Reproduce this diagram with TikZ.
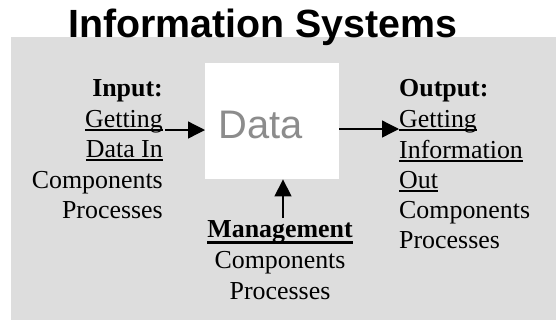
\documentclass[tikz,border=0pt]{standalone}
\usepackage{fontspec}
\setmainfont{Liberation Serif}
\newfontfamily\arialf{Liberation Sans}
\usetikzlibrary{arrows.meta}
\definecolor{bggray}{HTML}{DDDDDD}
\definecolor{datagray}{HTML}{8C8C8C}
\newcommand\ulreg[1]{\setbox0\hbox{#1}\rlap{\rule[-4bp]{\wd0}{2bp}}\box0}
\newcommand\ulbold[1]{\setbox0\hbox{#1}\rlap{\rule[-7bp]{\wd0}{3bp}}\box0}
\begin{document}
\begin{tikzpicture}[x=1bp,y=-1bp,
  txt/.style={inner sep=0pt, font=\fontsize{26}{30}\selectfont},
  ltxt/.style={txt, anchor=base east},
  rtxt/.style={txt, anchor=base west},
  ctxt/.style={txt, anchor=base},
  arr/.style={-{Triangle[length=17bp,width=17bp]}, line width=1.3bp}]
\useasboundingbox (0,0) rectangle (556,320);
\fill[bggray] (11,37) rectangle (556,320);
\node[fill=white, minimum width=134bp, minimum height=116bp, inner sep=0pt, anchor=north west] (box) at (205,63) {};
\node[anchor=base, inner sep=0pt, font=\arialf\bfseries\fontsize{39.5}{42}\selectfont] (title) at (263,37) {Information Systems};
\node[anchor=base, inner sep=0pt, text=datagray, font=\arialf\fontsize{40}{42}\selectfont] (data) at (260.5,138) {Data};
% left column
\node[ltxt] (l1) at (163,96) {\textbf{Input:}};
\node[ltxt] (l2) at (163,127) {\ulreg{Getting}};
\node[ltxt] (l3) at (163,157) {\ulreg{Data In}};
\node[ltxt] (l4) at (163,188) {Components};
\node[ltxt] (l5) at (163,218) {Processes};
% right column
\node[rtxt] (r1) at (399,96) {\textbf{Output:}};
\node[rtxt] (r2) at (399,127) {\ulreg{Getting}};
\node[rtxt] (r3) at (399,158) {\ulreg{Information}};
\node[rtxt] (r4) at (399,188) {\ulreg{Out}};
\node[rtxt] (r5) at (399,218) {Components};
\node[rtxt] (r6) at (399,248) {Processes};
% management
\node[ctxt] (m1) at (280,237) {\ulbold{\textbf{Management}}};
\node[ctxt] (m2) at (280,268) {Components};
\node[ctxt] (m3) at (280,299) {Processes};
% arrows
\coordinate (lin) at (165,130);
\coordinate (rout) at (399,129);
\coordinate (mup) at (283,218);
\draw[arr] (lin) -- (lin -| box.west);
\draw[arr] (box.east |- rout) -- (rout);
\draw[arr] (mup) -- (mup |- box.south);
\end{tikzpicture}
\end{document}
